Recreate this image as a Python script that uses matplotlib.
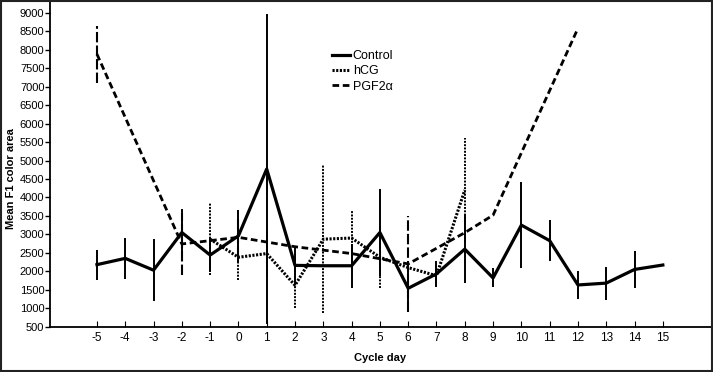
import numpy as np
import matplotlib.pyplot as plt
from matplotlib.patches import Rectangle

plt.rcParams['font.family'] = ['Liberation Sans', 'DejaVu Sans']
plt.rcParams['axes.unicode_minus'] = False

# Control group (mean and symmetric error)
control_days = np.arange(-5, 16)
control_mean = [2180, 2350, 2030, 3050, 2440, 2960, 4770, 2160, 2150, 2150, 3050,
                1540, 1930, 2600, 1820, 3250, 2830, 1630, 1680, 2050, 2170]
control_err = [410, 555, 845, 630, 450, 700, 4200, 520, np.nan, 590, 1175,
               590, 340, 920, 257, 1155, 550, 375, 445, 505, np.nan]

# hCG group
hcg_days = np.arange(-1, 9)
hcg_mean = [2870, 2380, 2480, 1620, 2870, 2900, 2380, 2100, 1880, 4200]
hcg_err = [980, 620, 630, 620, 2010, 760, 840, np.nan, 300, 1400]

# PGF2alpha group
pgf_days = [-5, -2, 0, 2, 4, 6, 8, 9, 12]
pgf_mean = [7880, 2740, 2920, 2665, 2480, 2200, 3045, 3520, 8580]
pgf_err = [770, 835, 520, np.nan, np.nan, 1300, np.nan, np.nan, np.nan]

xticks = np.arange(-5, 16)
yticks = np.arange(500, 9001, 500)

fig = plt.figure(figsize=(7.13, 3.72), dpi=100)
ax = fig.add_axes([0.0701, 0.1218, 0.927, 0.878])

# error bars
ax.vlines(control_days, np.array(control_mean) - np.array(control_err),
          np.array(control_mean) + np.array(control_err),
          color='black', lw=1.4)
ax.vlines(hcg_days, np.array(hcg_mean) - np.array(hcg_err),
          np.array(hcg_mean) + np.array(hcg_err),
          color='black', lw=1.4, linestyle=(0, (1, 0.7)))
ax.vlines(pgf_days, np.array(pgf_mean) - np.array(pgf_err),
          np.array(pgf_mean) + np.array(pgf_err),
          color='black', lw=1.5, linestyle=(0, (5, 1.5)))

# mean lines
ax.plot(control_days, control_mean, color='black', lw=2.3, label='Control')
ax.plot(hcg_days, hcg_mean, color='black', lw=2.2, linestyle=(0, (0.7, 0.5)),
        label='hCG')
ax.plot(pgf_days, pgf_mean, color='black', lw=2.0, linestyle=(0, (2.4, 1.3)),
        label='PGF2α')

ax.set_xlim(-6.66, 16.7)
ax.set_ylim(500, 9344)
ax.set_xticks(xticks)
ax.set_yticks(yticks)
ax.tick_params(axis='y', direction='out', length=3.5, width=1, pad=0.5, labelsize=8)
ax.tick_params(axis='x', direction='in', length=4.5, width=0.8, pad=4, labelsize=8.5)
for s in ['top', 'right']:
    ax.spines[s].set_visible(False)
for s in ['left', 'bottom']:
    ax.spines[s].set_linewidth(1.3)

ax.set_xlabel('Cycle day', fontsize=8, fontweight='bold', labelpad=6)
ax.set_ylabel('Mean F1 color area', fontsize=8, fontweight='bold')
ax.yaxis.set_label_coords(-0.051, 0.455)

ax.legend(loc='upper left', bbox_to_anchor=(0.426, 0.846), frameon=False,
          fontsize=9, handlelength=1.5, handletextpad=0.2, labelspacing=0.25,
          borderpad=0, borderaxespad=0)

fig.patches.append(Rectangle((0.001, 0.002), 0.997, 0.996, transform=fig.transFigure,
                             fill=False, edgecolor='#222222', lw=1.5))

fig.savefig('out.png', dpi=100)
